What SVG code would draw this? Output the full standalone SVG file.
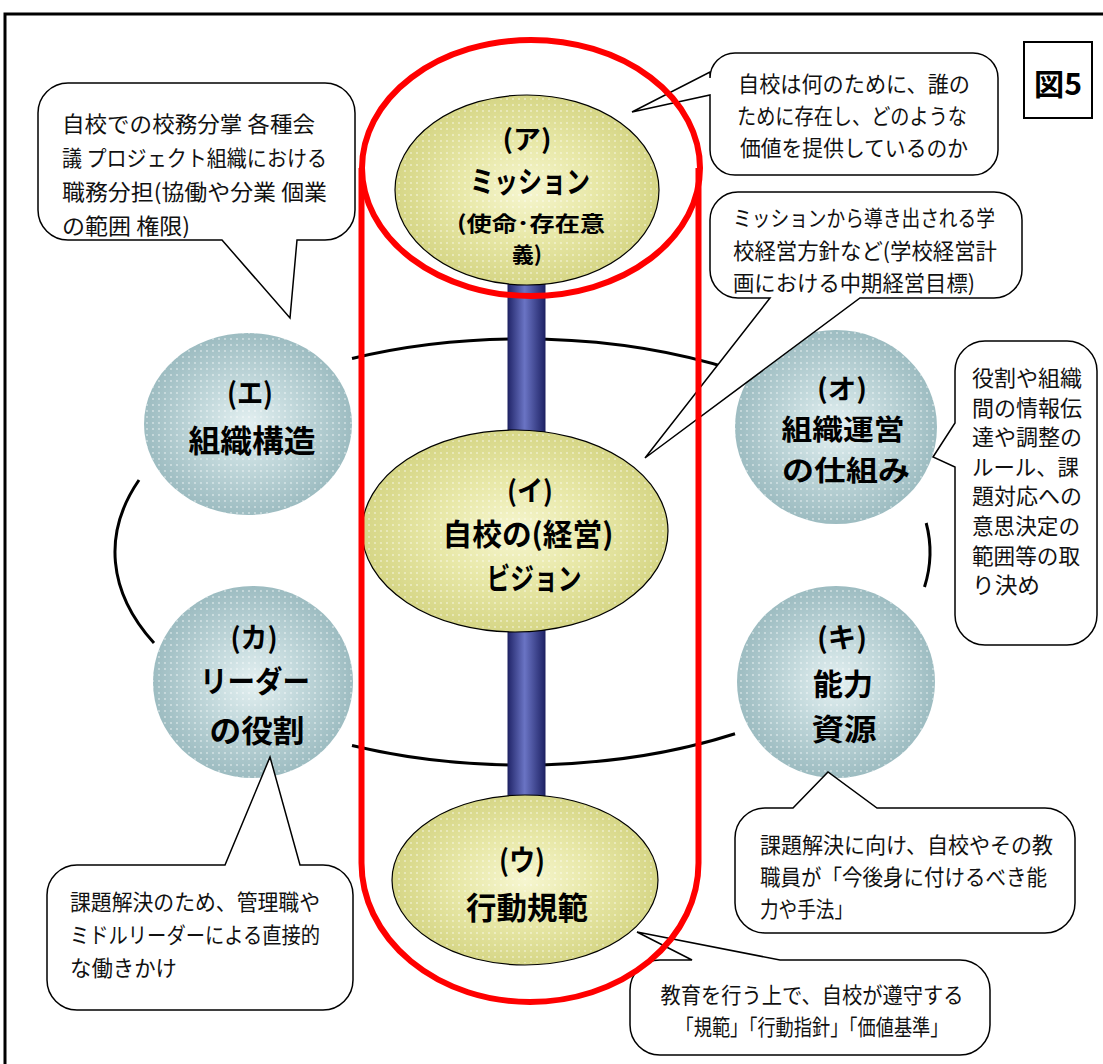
<svg xmlns="http://www.w3.org/2000/svg" width="1103" height="1064" viewBox="0 0 1103 1064">
<defs>
<style>
.frame{fill:none;stroke:#000;stroke-width:3}
.ring{fill:none;stroke:#000;stroke-width:3}
.teal{fill:url(#gTeal)}
.yel{fill:url(#gYel);stroke:#000;stroke-width:1.2}
.dots{fill:url(#pDots)}
.bar{fill:url(#gBar);stroke:#1e2260;stroke-width:1}
.red{fill:none;stroke:#ff0000;stroke-width:6}
.callout{fill:#fff;stroke:#000;stroke-width:1.5;stroke-linejoin:miter}
.nt{font-family:"Noto Sans CJK JP","Noto Sans",sans-serif;font-weight:700;fill:#000;text-anchor:middle;dominant-baseline:central}
.ct{font-family:"Noto Sans CJK JP","Noto Sans",sans-serif;font-weight:400;fill:#111;font-size:22px;dominant-baseline:central}
.cc{text-anchor:middle}
</style>
<radialGradient id="gTeal" cx="0.5" cy="0.5" r="0.5">
<stop offset="0" stop-color="#e4f0f1"/>
<stop offset="0.45" stop-color="#c3d9dc"/>
<stop offset="1" stop-color="#9dbcc1"/>
</radialGradient>
<radialGradient id="gYel" cx="0.5" cy="0.5" r="0.5">
<stop offset="0" stop-color="#f6f6d0"/>
<stop offset="0.5" stop-color="#e8e8a8"/>
<stop offset="1" stop-color="#d6d686"/>
</radialGradient>
<linearGradient id="gBar" x1="0" y1="0" x2="1" y2="0">
<stop offset="0" stop-color="#22266a"/>
<stop offset="0.45" stop-color="#6a74c4"/>
<stop offset="1" stop-color="#1f2366"/>
</linearGradient>
<pattern id="pDots" width="6" height="6" patternUnits="userSpaceOnUse">
<circle cx="3" cy="3" r="0.9" fill="#fff" fill-opacity="0.55"/>
</pattern>
</defs>
<rect width="1103" height="1064" fill="#fff"/>
<rect class="frame" x="5" y="14" width="1120" height="1080"/>

<g id="connectors">
<path class="ring" d="M352,358.5 A407.5,213 0 0 1 735,370.3"/>
<path class="ring" d="M352,745.5 A407.5,213 0 0 0 735,733.7"/>
<path class="ring" d="M139,480 A407.5,213 0 0 0 154,643"/>
<path class="ring" d="M926.2,523 A407.5,213 0 0 1 924.5,587"/>
<rect class="bar" x="508" y="270" width="37" height="172" rx="18" ry="8"/>
<rect class="bar" x="508" y="620" width="37" height="188" rx="18" ry="8"/>
</g>

<g id="node-e">
<ellipse class="teal" cx="248" cy="424" rx="104" ry="91"/>
<ellipse class="dots" cx="248" cy="424" rx="104" ry="91"/>
<text class="nt" x="250" y="391" font-size="29" textLength="46" lengthAdjust="spacingAndGlyphs">(エ)</text>
<text class="nt" x="252" y="438" font-size="31" textLength="127" lengthAdjust="spacingAndGlyphs">組織構造</text>
</g>
<g id="node-ka">
<ellipse class="teal" cx="253" cy="682" rx="100" ry="96"/>
<ellipse class="dots" cx="253" cy="682" rx="100" ry="96"/>
<text class="nt" x="254" y="636" font-size="28" textLength="47" lengthAdjust="spacingAndGlyphs">(カ)</text>
<text class="nt" x="255" y="679" font-size="30" textLength="110" lengthAdjust="spacingAndGlyphs">リーダー</text>
<text class="nt" x="257" y="728" font-size="31" textLength="95" lengthAdjust="spacingAndGlyphs">の役割</text>
</g>
<g id="node-o">
<ellipse class="teal" cx="836" cy="427" rx="101" ry="97"/>
<ellipse class="dots" cx="836" cy="427" rx="101" ry="97"/>
<text class="nt" x="842" y="387" font-size="27" textLength="50" lengthAdjust="spacingAndGlyphs">(オ)</text>
<text class="nt" x="843" y="428" font-size="28" textLength="123" lengthAdjust="spacingAndGlyphs">組織運営</text>
<text class="nt" x="846" y="469" font-size="28" textLength="128" lengthAdjust="spacingAndGlyphs">の仕組み</text>
</g>
<g id="node-ki">
<ellipse class="teal" cx="836" cy="682" rx="99" ry="96"/>
<ellipse class="dots" cx="836" cy="682" rx="99" ry="96"/>
<text class="nt" x="842" y="636" font-size="28" textLength="50" lengthAdjust="spacingAndGlyphs">(キ)</text>
<text class="nt" x="843" y="682" font-size="30" textLength="60" lengthAdjust="spacingAndGlyphs">能力</text>
<text class="nt" x="844" y="727" font-size="30" textLength="65" lengthAdjust="spacingAndGlyphs">資源</text>
</g>

<g id="node-a">
<ellipse class="yel" cx="527" cy="190" rx="132" ry="95"/>
<ellipse class="dots" cx="527" cy="190" rx="130" ry="93"/>
<text class="nt" x="527" y="137" font-size="26" textLength="49" lengthAdjust="spacingAndGlyphs">(ア)</text>
<text class="nt" x="530" y="179" font-size="30" textLength="120" lengthAdjust="spacingAndGlyphs">ミッション</text>
<text class="nt" x="531" y="222" font-size="21" textLength="148" lengthAdjust="spacingAndGlyphs">(使命･存在意</text>
<text class="nt" x="527" y="253" font-size="21" textLength="30" lengthAdjust="spacingAndGlyphs">義)</text>
</g>
<g id="node-i">
<ellipse class="yel" cx="515" cy="531" rx="153" ry="101"/>
<ellipse class="dots" cx="515" cy="531" rx="151" ry="99"/>
<text class="nt" x="530" y="489" font-size="28" textLength="46" lengthAdjust="spacingAndGlyphs">(イ)</text>
<text class="nt" x="528" y="532" font-size="30" textLength="171" lengthAdjust="spacingAndGlyphs">自校の(経営)</text>
<text class="nt" x="534" y="576" font-size="30" textLength="95" lengthAdjust="spacingAndGlyphs">ビジョン</text>
</g>
<g id="node-u">
<ellipse class="yel" cx="525" cy="880" rx="133" ry="85"/>
<ellipse class="dots" cx="525" cy="880" rx="131" ry="83"/>
<text class="nt" x="522" y="858" font-size="29" textLength="46" lengthAdjust="spacingAndGlyphs">(ウ)</text>
<text class="nt" x="527" y="905" font-size="31" textLength="122" lengthAdjust="spacingAndGlyphs">行動規範</text>
</g>

<g id="callout-e">
<path class="callout" d="M68,83 H325 A30,30 0 0 1 355,113 V210 A30,30 0 0 1 325,240 H297 L290,318 L222,240 H68 A30,30 0 0 1 38,210 V113 A30,30 0 0 1 68,83 Z"/>
<text class="ct" x="62" y="122" font-size="23" textLength="253" lengthAdjust="spacingAndGlyphs">自校での校務分掌 各種会</text>
<text class="ct" x="62" y="156" font-size="23" textLength="265" lengthAdjust="spacingAndGlyphs">議 プロジェクト組織における</text>
<text class="ct" x="62" y="190" font-size="23" textLength="265" lengthAdjust="spacingAndGlyphs">職務分担(協働や分業 個業</text>
<text class="ct" x="62" y="224" font-size="23" textLength="128" lengthAdjust="spacingAndGlyphs">の範囲 権限)</text>
</g>
<g id="callout-a">
<path class="callout" d="M735,53 H973 A25,25 0 0 1 998,78 V150 A25,25 0 0 1 973,175 H735 A25,25 0 0 1 710,150 V95 L632,112 L710,72 V78 A25,25 0 0 1 735,53 Z"/>
<text class="ct cc" x="854" y="82" textLength="232" lengthAdjust="spacingAndGlyphs">自校は何のために、誰の</text>
<text class="ct cc" x="852" y="114" textLength="230" lengthAdjust="spacingAndGlyphs">ために存在し、どのような</text>
<text class="ct cc" x="854" y="146" textLength="228" lengthAdjust="spacingAndGlyphs">価値を提供しているのか</text>
</g>
<g id="callout-i">
<path class="callout" d="M738,192 H994 A28,28 0 0 1 1022,220 V270 A28,28 0 0 1 994,298 H860 L645,458 L770,298 H738 A28,28 0 0 1 710,270 V220 A28,28 0 0 1 738,192 Z"/>
<text class="ct" x="733" y="216" textLength="262" lengthAdjust="spacingAndGlyphs">ミッションから導き出される学</text>
<text class="ct" x="733" y="248.5" textLength="264" lengthAdjust="spacingAndGlyphs">校経営方針など(学校経営計</text>
<text class="ct" x="733" y="281" textLength="242" lengthAdjust="spacingAndGlyphs">画における中期経営目標)</text>
</g>
<g id="callout-o">
<path class="callout" d="M985,341 H1067 A30,30 0 0 1 1097,371 V615 A30,30 0 0 1 1067,645 H985 A30,30 0 0 1 955,615 V467 L933,457 L955,423 V371 A30,30 0 0 1 985,341 Z"/>
<text class="ct" x="972" y="376" font-size="19.5" textLength="110" lengthAdjust="spacingAndGlyphs">役割や組織</text>
<text class="ct" x="972" y="405.6" font-size="19.5" textLength="110" lengthAdjust="spacingAndGlyphs">間の情報伝</text>
<text class="ct" x="972" y="435.2" font-size="19.5" textLength="110" lengthAdjust="spacingAndGlyphs">達や調整の</text>
<text class="ct" x="972" y="464.8" font-size="19.5" textLength="107" lengthAdjust="spacingAndGlyphs">ルール、課</text>
<text class="ct" x="972" y="494.4" font-size="19.5" textLength="110" lengthAdjust="spacingAndGlyphs">題対応への</text>
<text class="ct" x="972" y="524" font-size="19.5" textLength="108" lengthAdjust="spacingAndGlyphs">意思決定の</text>
<text class="ct" x="972" y="553.6" font-size="19.5" textLength="108" lengthAdjust="spacingAndGlyphs">範囲等の取</text>
<text class="ct" x="972" y="583.2" font-size="19.5" textLength="68" lengthAdjust="spacingAndGlyphs">り決め</text>
</g>
<g id="callout-ka">
<path class="callout" d="M77,865 H225 L270,757 L300,865 H323 A30,30 0 0 1 353,895 V980 A30,30 0 0 1 323,1010 H77 A30,30 0 0 1 47,980 V895 A30,30 0 0 1 77,865 Z"/>
<text class="ct" x="70" y="900" textLength="250" lengthAdjust="spacingAndGlyphs">課題解決のため、管理職や</text>
<text class="ct" x="70" y="933" textLength="250" lengthAdjust="spacingAndGlyphs">ミドルリーダーによる直接的</text>
<text class="ct" x="70" y="966" textLength="107" lengthAdjust="spacingAndGlyphs">な働きかけ</text>
</g>
<g id="callout-ki">
<path class="callout" d="M765,808 H793 L828,772 L877,808 H1045 A30,30 0 0 1 1075,838 V903 A30,30 0 0 1 1045,933 H765 A30,30 0 0 1 735,903 V838 A30,30 0 0 1 765,808 Z"/>
<text class="ct" x="760" y="843" font-size="21.5" textLength="293" lengthAdjust="spacingAndGlyphs">課題解決に向け、自校やその教</text>
<text class="ct" x="760" y="875" font-size="21.5" textLength="287" lengthAdjust="spacingAndGlyphs">職員が「今後身に付けるべき能</text>
<text class="ct" x="760" y="907" font-size="21.5" textLength="93" lengthAdjust="spacingAndGlyphs">力や手法」</text>
</g>
<g id="callout-u">
<path class="callout" d="M660,960 H692 L637,932 L780,960 H960 A30,30 0 0 1 990,990 V1025 A30,30 0 0 1 960,1055 H660 A30,30 0 0 1 630,1025 V990 A30,30 0 0 1 660,960 Z"/>
<text class="ct cc" x="812" y="993" textLength="303" lengthAdjust="spacingAndGlyphs">教育を行う上で、自校が遵守する</text>
<text class="ct cc" x="812" y="1025" textLength="273" lengthAdjust="spacingAndGlyphs">「規範」「行動指針」「価値基準」</text>
</g>

<g id="highlight">
<ellipse class="red" cx="531" cy="168" rx="169" ry="128"/>
<path class="red" d="M361.5,168 V863 A168.5,139 0 0 0 698.5,863 V168"/>
</g>

<g id="label">
<rect x="1024" y="42" width="68" height="76" fill="#fff" stroke="#000" stroke-width="2"/>
<text class="nt" x="1058" y="82" font-size="30" textLength="48" lengthAdjust="spacingAndGlyphs">図5</text>
</g>
</svg>
